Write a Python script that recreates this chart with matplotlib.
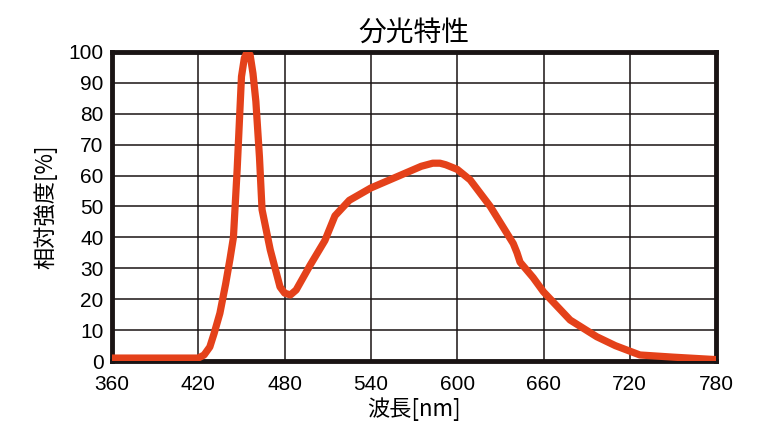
import matplotlib
matplotlib.use('Agg')
from matplotlib import pyplot as plt

# Spectrum
wavelength = [360, 400, 420, 424, 428, 431, 435, 439, 442, 444.4, 447, 450, 452, 454, 456, 458,
              460, 462.5, 464.3, 470, 476.8, 480, 484, 488, 497.7, 508, 515, 525,
              540, 560, 575, 583, 588, 592, 600, 609, 623, 639, 641.6, 643.7,
              652.8, 660, 678.5, 697, 710, 727, 750, 780]
intensity = [1, 1, 1, 2, 4.6, 9, 15.5, 25, 33, 40, 62, 92, 98, 100, 99, 93,
             84, 66, 49, 36, 24, 22, 21.4, 23, 31, 39, 47, 52,
             56, 60, 63, 64, 64, 63.5, 62, 58.6, 50, 38, 35, 32,
             27, 22.4, 13.3, 7.9, 5, 2, 1.3, 0.5]

xTicks = [360, 420, 480, 540, 600, 660, 720, 780]
yTicks = list(range(0, 101, 10))

numFont = ['Liberation Sans', 'DejaVu Sans']
cjkFont = ['Noto Sans CJK JP', 'DejaVu Sans']

fig = plt.figure(figsize=(7.7, 4.32), dpi=100)
ax = fig.add_axes([0.1455, 0.164, 0.7845, 0.716])

ax.plot(wavelength, intensity, color='#e4411a', linewidth=5.2,
        solid_joinstyle='round', solid_capstyle='round', zorder=3)

ax.set_xlim(360, 780)
ax.set_ylim(0, 100)
ax.set_xticks(xTicks)
ax.set_yticks(yTicks)
ax.set_xticklabels([str(t) for t in xTicks], fontsize=15, family=numFont)
ax.set_yticklabels([str(t) for t in yTicks], fontsize=15, family=numFont)
ax.tick_params(axis='x', length=0, pad=10)
ax.tick_params(axis='y', length=0, pad=6)
ax.grid(True, color='#1a1414', linewidth=1.1)
ax.set_axisbelow(True)

for spine in ax.spines.values():
    spine.set_linewidth(3.5)
    spine.set_color('#1a1414')

ax.set_title('分光特性', fontsize=20, family=cjkFont, pad=8)
ax.set_xlabel('波長[nm]', fontsize=16, family=cjkFont, labelpad=2)
ax.set_ylabel('相対強度[%]', fontsize=16, family=cjkFont, labelpad=8)

fig.savefig('out.png', dpi=100)
